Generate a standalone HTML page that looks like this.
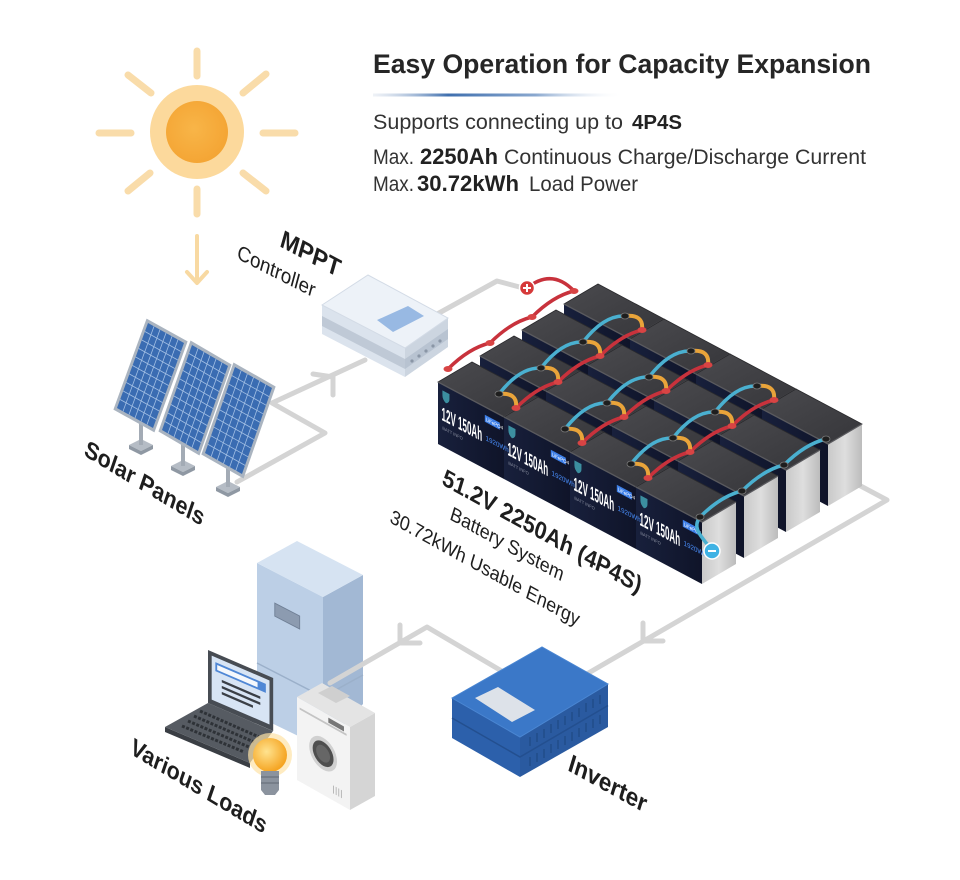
<!DOCTYPE html>
<html>
<head>
<meta charset="utf-8">
<style>
html,body{margin:0;padding:0;background:#fff;}
svg{display:block;}
</style>
</head>
<body>
<svg width="960" height="880" viewBox="0 0 960 880" xmlns="http://www.w3.org/2000/svg" font-family="'Liberation Sans', Arial, sans-serif">
<defs>
  <linearGradient id="ul" x1="0" y1="0" x2="1" y2="0">
    <stop offset="0" stop-color="#c9d4e4" stop-opacity="0.3"/>
    <stop offset="0.3" stop-color="#3f6fae"/>
    <stop offset="0.65" stop-color="#8aa8cf"/>
    <stop offset="1" stop-color="#ffffff" stop-opacity="0"/>
  </linearGradient>
  <radialGradient id="sunc" cx="0.45" cy="0.45" r="0.6">
    <stop offset="0" stop-color="#f8b548"/>
    <stop offset="1" stop-color="#f4a433"/>
  </radialGradient>
  <linearGradient id="topg" x1="0" y1="0" x2="1" y2="1">
    <stop offset="0" stop-color="#4a4a4e"/>
    <stop offset="1" stop-color="#36363a"/>
  </linearGradient>
  <linearGradient id="frontg" x1="0" y1="0" x2="1" y2="0">
    <stop offset="0" stop-color="#18203c"/>
    <stop offset="1" stop-color="#0f1429"/>
  </linearGradient>
  <linearGradient id="sideg" x1="0" y1="0" x2="1" y2="0">
    <stop offset="0" stop-color="#c9c9c9"/>
    <stop offset="0.5" stop-color="#dedede"/>
    <stop offset="1" stop-color="#bcbcbc"/>
  </linearGradient>
  <radialGradient id="bulbg" cx="0.4" cy="0.4" r="0.6">
    <stop offset="0" stop-color="#ffe38f"/>
    <stop offset="1" stop-color="#f5a523"/>
  </radialGradient>
  <g id="bat">
    <polygon points="0,0 66,35 100,15 34,-20" fill="url(#topg)" stroke="#2a2a2d" stroke-width="0.8"/>
    <polygon points="0,0 66,35 66,97 0,62" fill="url(#frontg)"/>
    <polygon points="66,35 100,15 100,77 66,97" fill="url(#sideg)"/>
    <polyline points="0,0 66,35 100,15" fill="none" stroke="#5a5a5e" stroke-width="1.3"/>
  </g>
</defs>

<rect width="960" height="880" fill="#ffffff"/>

<!-- Header -->
<text x="373" y="73" font-size="27" font-weight="bold" fill="#262626" textLength="498" lengthAdjust="spacingAndGlyphs">Easy Operation for Capacity Expansion</text>
<rect x="373" y="93.5" width="250" height="3" fill="url(#ul)"/>
<text x="373" y="129" font-size="21" fill="#333" textLength="250" lengthAdjust="spacingAndGlyphs">Supports connecting up to</text>
<text x="632" y="129" font-size="20" font-weight="bold" fill="#222" textLength="50" lengthAdjust="spacingAndGlyphs">4P4S</text>
<text x="373" y="164" font-size="21" fill="#333" textLength="41" lengthAdjust="spacingAndGlyphs">Max.</text>
<text x="420" y="164" font-size="22" font-weight="bold" fill="#222" textLength="78" lengthAdjust="spacingAndGlyphs">2250Ah</text>
<text x="504" y="164" font-size="21" fill="#333" textLength="362" lengthAdjust="spacingAndGlyphs">Continuous Charge/Discharge Current</text>
<text x="373" y="191" font-size="21" fill="#333" textLength="41" lengthAdjust="spacingAndGlyphs">Max.</text>
<text x="417" y="191" font-size="22" font-weight="bold" fill="#222" textLength="102" lengthAdjust="spacingAndGlyphs">30.72kWh</text>
<text x="529" y="191" font-size="21" fill="#333" textLength="109" lengthAdjust="spacingAndGlyphs">Load Power</text>

<!-- Sun -->
<g stroke="#f9dcaa" stroke-width="7" stroke-linecap="round" fill="none">
  <path d="M197,51 L197,76"/>
  <path d="M197,189 L197,214"/>
  <path d="M99,133 L131,133"/>
  <path d="M263,133 L295,133"/>
  <path d="M128,75 L151,93"/>
  <path d="M266,74 L243,93"/>
  <path d="M128,191 L150,173"/>
  <path d="M243,173 L266,191"/>
</g>
<circle cx="197" cy="132" r="47" fill="#fcd99c"/>
<circle cx="197" cy="132" r="31" fill="url(#sunc)"/>
<g stroke="#f8d9a2" stroke-width="4" stroke-linecap="round" stroke-linejoin="round" fill="none">
  <path d="M197,236 L197,282"/>
  <path d="M187,272 L197,283 L207,272"/>
</g>

<!-- Connector lines (background) -->
<g stroke="#d4d4d4" stroke-width="5" fill="none" stroke-linejoin="round" stroke-linecap="round">
  <path d="M237,482 L325,433 L272,403 L365,360"/>
  <path d="M313,374 L333,377 L333,395"/>
  <path d="M430,318 L497,281 L527,289"/>
  <path d="M855,483 L887,500 L585,675"/>
  <path d="M643,623 L643,641 L663,641"/>
</g>

<!-- Solar panels -->
<g>
  <polygon points="129,445 141,439 153,445 141,451" fill="#b5bcc5"/>
  <polygon points="129,445 141,451 153,445 153,449 141,455 129,449" fill="#8f98a3"/>
  <polygon points="171,466 183,460 195,466 183,472" fill="#b5bcc5"/>
  <polygon points="171,466 183,472 195,466 195,470 183,476 171,470" fill="#8f98a3"/>
  <polygon points="216,487 228,481 240,487 228,493" fill="#b5bcc5"/>
  <polygon points="216,487 228,493 240,487 240,491 228,497 216,491" fill="#8f98a3"/>
  <g stroke="#a3abb5" stroke-width="4">
    <path d="M141,415 L141,445"/>
    <path d="M183,437 L183,466"/>
    <path d="M228,460 L228,487"/>
  </g>
  <g transform="matrix(36,20,-31,85,148,323)">
    <polygon points="-0.07,-0.035 1.07,-0.035 1.07,1.035 -0.07,1.035" fill="#aab4c0"/>
    <rect x="0" y="0" width="1" height="1" fill="#3a6cb2"/>
    <path d="M0.1667,0V1M0.3333,0V1M0.5,0V1M0.6667,0V1M0.8333,0V1M0,0.1H1M0,0.2H1M0,0.3H1M0,0.4H1M0,0.5H1M0,0.6H1M0,0.7H1M0,0.8H1M0,0.9H1" stroke="#a2bfe4" stroke-width="0.8" vector-effect="non-scaling-stroke" fill="none"/>
  </g>
  <g transform="matrix(36,21,-30,85,192,345)">
    <polygon points="-0.07,-0.035 1.07,-0.035 1.07,1.035 -0.07,1.035" fill="#aab4c0"/>
    <rect x="0" y="0" width="1" height="1" fill="#3a6cb2"/>
    <path d="M0.1667,0V1M0.3333,0V1M0.5,0V1M0.6667,0V1M0.8333,0V1M0,0.1H1M0,0.2H1M0,0.3H1M0,0.4H1M0,0.5H1M0,0.6H1M0,0.7H1M0,0.8H1M0,0.9H1" stroke="#a2bfe4" stroke-width="0.8" vector-effect="non-scaling-stroke" fill="none"/>
  </g>
  <g transform="matrix(37,21,-30,86,235,367)">
    <polygon points="-0.07,-0.035 1.07,-0.035 1.07,1.035 -0.07,1.035" fill="#aab4c0"/>
    <rect x="0" y="0" width="1" height="1" fill="#3a6cb2"/>
    <path d="M0.1667,0V1M0.3333,0V1M0.5,0V1M0.6667,0V1M0.8333,0V1M0,0.1H1M0,0.2H1M0,0.3H1M0,0.4H1M0,0.5H1M0,0.6H1M0,0.7H1M0,0.8H1M0,0.9H1" stroke="#a2bfe4" stroke-width="0.8" vector-effect="non-scaling-stroke" fill="none"/>
  </g>
</g>

<!-- MPPT controller -->
<g>
  <polygon points="322,305 405,348 405,377 322,334" fill="#dbe3ed"/>
  <polygon points="322,316 405,359 405,369 322,326" fill="#bfc9d6"/>
  <polygon points="405,348 448,318 448,347 405,377" fill="#ccd5e0"/>
  <polygon points="405,359 448,329 448,339 405,369" fill="#b8c3d1"/>
  <polygon points="322,305 368,275 448,318 405,348" fill="#edf2f8" stroke="#d3dbe6" stroke-width="1"/>
  <polygon points="377,320 408,306 424,316 393,332" fill="#98b9e3"/>
  <g fill="#8a96a6">
    <circle cx="412" cy="361" r="1.6"/>
    <circle cx="419" cy="356" r="1.6"/>
    <circle cx="426" cy="351" r="1.6"/>
    <circle cx="433" cy="346" r="1.6"/>
    <circle cx="440" cy="341" r="1.6"/>
  </g>
</g>

<!-- Battery bank -->
<use href="#bat" x="564" y="304"/>
<use href="#bat" x="630" y="339"/>
<use href="#bat" x="696" y="374"/>
<use href="#bat" x="762" y="409"/>
<use href="#bat" x="522" y="330"/>
<use href="#bat" x="588" y="365"/>
<use href="#bat" x="654" y="400"/>
<use href="#bat" x="720" y="435"/>
<use href="#bat" x="480" y="356"/>
<use href="#bat" x="546" y="391"/>
<use href="#bat" x="612" y="426"/>
<use href="#bat" x="678" y="461"/>
<use href="#bat" x="438" y="382"/>
<use href="#bat" x="504" y="417"/>
<use href="#bat" x="570" y="452"/>
<use href="#bat" x="636" y="487"/>

<!-- Front labels of batteries -->
<g transform="matrix(0.883,0.468,0,1,438,382)">
  <path d="M5,6 h8 v5 q0,4 -4,6 q-4,-2 -4,-6 z" fill="#3c8fa0"/>
  <text x="4" y="36" font-size="19" font-weight="bold" fill="#ffffff" textLength="46" lengthAdjust="spacingAndGlyphs">12V 150Ah</text>
  <rect x="53" y="8" width="17" height="7" fill="#3d7fe8"/>
  <text x="54" y="13.5" font-size="5" fill="#ffffff">LiFePO4</text>
  <text x="54" y="33" font-size="7" fill="#4a90ff">1920Wh</text>
  <text x="5" y="45" font-size="4.5" fill="#8a8fa0">BATT INFO</text>
</g>
<g transform="matrix(0.883,0.468,0,1,504,417)">
  <path d="M5,6 h8 v5 q0,4 -4,6 q-4,-2 -4,-6 z" fill="#3c8fa0"/>
  <text x="4" y="36" font-size="19" font-weight="bold" fill="#ffffff" textLength="46" lengthAdjust="spacingAndGlyphs">12V 150Ah</text>
  <rect x="53" y="8" width="17" height="7" fill="#3d7fe8"/>
  <text x="54" y="13.5" font-size="5" fill="#ffffff">LiFePO4</text>
  <text x="54" y="33" font-size="7" fill="#4a90ff">1920Wh</text>
  <text x="5" y="45" font-size="4.5" fill="#8a8fa0">BATT INFO</text>
</g>
<g transform="matrix(0.883,0.468,0,1,570,452)">
  <path d="M5,6 h8 v5 q0,4 -4,6 q-4,-2 -4,-6 z" fill="#3c8fa0"/>
  <text x="4" y="36" font-size="19" font-weight="bold" fill="#ffffff" textLength="46" lengthAdjust="spacingAndGlyphs">12V 150Ah</text>
  <rect x="53" y="8" width="17" height="7" fill="#3d7fe8"/>
  <text x="54" y="13.5" font-size="5" fill="#ffffff">LiFePO4</text>
  <text x="54" y="33" font-size="7" fill="#4a90ff">1920Wh</text>
  <text x="5" y="45" font-size="4.5" fill="#8a8fa0">BATT INFO</text>
</g>
<g transform="matrix(0.883,0.468,0,1,636,487)">
  <path d="M5,6 h8 v5 q0,4 -4,6 q-4,-2 -4,-6 z" fill="#3c8fa0"/>
  <text x="4" y="36" font-size="19" font-weight="bold" fill="#ffffff" textLength="46" lengthAdjust="spacingAndGlyphs">12V 150Ah</text>
  <rect x="53" y="8" width="17" height="7" fill="#3d7fe8"/>
  <text x="54" y="13.5" font-size="5" fill="#ffffff">LiFePO4</text>
  <text x="54" y="33" font-size="7" fill="#4a90ff">1920Wh</text>
  <text x="5" y="45" font-size="4.5" fill="#8a8fa0">BATT INFO</text>
</g>

<!-- Cables -->
<g fill="none" stroke-linecap="round">
  <g stroke="#c8323c" stroke-width="3.5">
    <path d="M448,369 Q469,348 490,343 Q511,322 532,317 Q553,296 574,291"/>
    <path d="M527,288 Q552,268 574,291"/>
    <path d="M516,408 Q537,387 558,382 Q579,361 600,356 Q621,335 642,330"/>
    <path d="M582,443 Q603,422 624,417 Q645,396 666,391 Q687,370 708,365"/>
    <path d="M648,478 Q669,457 690,452 Q711,431 732,426 Q753,405 774,400"/>
  </g>
  <g stroke="#4ab0d0" stroke-width="3.5">
    <path d="M499,394 Q520,367 541,368 Q562,341 583,342 Q604,315 625,316"/>
    <path d="M565,429 Q586,402 607,403 Q628,376 649,377 Q670,350 691,351"/>
    <path d="M631,464 Q652,437 673,438 Q694,411 715,412 Q736,385 757,386"/>
    <path d="M700,517 Q721,496 742,491 Q763,470 784,465 Q805,444 826,439"/>
    <path d="M700,517 C690,530 706,540 712,551"/>
  </g>
  <g stroke="#e9a43a" stroke-width="4">
    <path d="M499,394 Q518,392 516,408"/>
    <path d="M541,368 Q560,366 558,382"/>
    <path d="M583,342 Q602,340 600,356"/>
    <path d="M625,316 Q644,314 642,330"/>
    <path d="M565,429 Q584,427 582,443"/>
    <path d="M607,403 Q626,401 624,417"/>
    <path d="M649,377 Q668,375 666,391"/>
    <path d="M691,351 Q710,349 708,365"/>
    <path d="M631,464 Q650,462 648,478"/>
    <path d="M673,438 Q692,436 690,452"/>
    <path d="M715,412 Q734,410 732,426"/>
    <path d="M757,386 Q776,384 774,400"/>
  </g>
</g>
<g fill="#1e1e1e" stroke="#777" stroke-width="0.8">
  <ellipse cx="499" cy="394" rx="4" ry="3"/><ellipse cx="541" cy="368" rx="4" ry="3"/><ellipse cx="583" cy="342" rx="4" ry="3"/><ellipse cx="625" cy="316" rx="4" ry="3"/>
  <ellipse cx="565" cy="429" rx="4" ry="3"/><ellipse cx="607" cy="403" rx="4" ry="3"/><ellipse cx="649" cy="377" rx="4" ry="3"/><ellipse cx="691" cy="351" rx="4" ry="3"/>
  <ellipse cx="631" cy="464" rx="4" ry="3"/><ellipse cx="673" cy="438" rx="4" ry="3"/><ellipse cx="715" cy="412" rx="4" ry="3"/><ellipse cx="757" cy="386" rx="4" ry="3"/>
  <ellipse cx="700" cy="517" rx="4" ry="3"/><ellipse cx="742" cy="491" rx="4" ry="3"/><ellipse cx="784" cy="465" rx="4" ry="3"/><ellipse cx="826" cy="439" rx="4" ry="3"/>
</g>
<g fill="#d84444">
  <ellipse cx="448" cy="369" rx="4.5" ry="3"/><ellipse cx="490" cy="343" rx="4.5" ry="3"/><ellipse cx="532" cy="317" rx="4.5" ry="3"/><ellipse cx="574" cy="291" rx="4.5" ry="3"/>
  <ellipse cx="516" cy="408" rx="4.5" ry="3"/><ellipse cx="558" cy="382" rx="4.5" ry="3"/><ellipse cx="600" cy="356" rx="4.5" ry="3"/><ellipse cx="642" cy="330" rx="4.5" ry="3"/>
  <ellipse cx="582" cy="443" rx="4.5" ry="3"/><ellipse cx="624" cy="417" rx="4.5" ry="3"/><ellipse cx="666" cy="391" rx="4.5" ry="3"/><ellipse cx="708" cy="365" rx="4.5" ry="3"/>
  <ellipse cx="648" cy="478" rx="4.5" ry="3"/><ellipse cx="690" cy="452" rx="4.5" ry="3"/><ellipse cx="732" cy="426" rx="4.5" ry="3"/><ellipse cx="774" cy="400" rx="4.5" ry="3"/>
</g>
<circle cx="527" cy="288" r="7.5" fill="#d63a3a" stroke="#ffffff" stroke-width="1.5"/>
<path d="M523,288 H531 M527,284 V292" stroke="#ffffff" stroke-width="2"/>
<circle cx="712" cy="551" r="8" fill="#3fb2e4" stroke="#ffffff" stroke-width="1.5"/>
<path d="M708,551 H716" stroke="#ffffff" stroke-width="2"/>

<!-- Fridge -->
<g>
  <polygon points="257,563 323,597 323,748 257,716" fill="#bccfe6"/>
  <polygon points="323,597 363,575 363,704 323,748" fill="#a2b8d4"/>
  <polygon points="257,563 297,541 363,575 323,597" fill="#d6e3f2"/>
  <path d="M257,663 L323,697 L363,675" stroke="#9bb0ca" stroke-width="1.5" fill="none"/>
  <g transform="matrix(0.889,0.458,0,1,257,563)">
    <rect x="20" y="31" width="28" height="13" fill="#8c9bb0" stroke="#6f7f95" stroke-width="1"/>
  </g>
</g>

<!-- Loads connector -->
<g stroke="#d4d4d4" stroke-width="5" fill="none" stroke-linejoin="round" stroke-linecap="round">
  <path d="M505,673 L427,627 L330,683"/>
  <path d="M400,625 L400,643 L420,643"/>
</g>

<!-- Laptop -->
<g>
  <polygon points="165,727 250,763 250,768 165,732" fill="#3a3e44"/>
  <polygon points="208,703 273,731 250,763 165,727" fill="#565b62"/>
  <g stroke="#2e3237" stroke-width="3" stroke-dasharray="3 1.5" fill="none">
    <path d="M200,711 L259,737"/>
    <path d="M194,716 L254,742"/>
    <path d="M188,721 L249,747"/>
    <path d="M182,726 L244,752"/>
  </g>
  <g transform="matrix(0.918,0.395,0,1,208,650)">
    <rect x="0" y="0" width="71" height="53" fill="#474c53"/>
    <rect x="4" y="4" width="63" height="44" fill="#d7e4f4"/>
    <rect x="8" y="9" width="55" height="9" fill="#4f87d5"/>
    <rect x="10" y="11" width="44" height="5" fill="#f5f8fc"/>
    <rect x="15" y="24" width="42" height="2.5" fill="#3a3f46"/>
    <rect x="15" y="30" width="42" height="2.5" fill="#3a3f46"/>
    <rect x="15" y="36" width="34" height="2.5" fill="#3a3f46"/>
  </g>
</g>

<!-- Washer -->
<g>
  <polygon points="297,697 350,727 350,810 297,780" fill="#f3f3f3"/>
  <polygon points="350,727 375,713 375,796 350,810" fill="#d5d5d5"/>
  <polygon points="297,697 322,683 375,713 350,727" fill="#e4e4e4"/>
  <polygon points="318,693 332,686 350,696 336,703" fill="#cfcfcf"/>
  <g transform="matrix(0.87,0.49,0,1,297,697)">
    <rect x="3" y="9" width="54" height="2" fill="#c4c4c4"/>
    <rect x="36" y="3" width="18" height="5" fill="#777"/>
    <circle cx="30" cy="42" r="16" fill="#d0d0d0"/>
    <circle cx="30" cy="42" r="12" fill="#4e4e4e"/>
    <circle cx="30" cy="42" r="8" fill="#666"/>
    <path d="M42,68 v8 M45,68 v8 M48,68 v8 M51,68 v8" stroke="#b0b0b0" stroke-width="1"/>
  </g>
</g>

<!-- Bulb -->
<g>
  <circle cx="270" cy="755" r="22" fill="#fde3a6" opacity="0.7"/>
  <circle cx="270" cy="755" r="17" fill="url(#bulbg)"/>
  <polygon points="261,771 279,771 279,790 275,795 265,795 261,790" fill="#8b939e"/>
  <path d="M261,777 H279 M261,783 H279" stroke="#6f7782" stroke-width="1.5"/>
</g>

<!-- Inverter -->
<g>
  <polygon points="452,698 520,737 520,777 452,738" fill="#2c60ab"/>
  <polygon points="520,737 608,684 608,727 520,777" fill="#2a5aa0"/>
  <polygon points="452,698 542,647 608,684 520,737" fill="#3b78c8" stroke="#4a86d2" stroke-width="1"/>
  <path d="M452,718 L520,757 L608,705.5" stroke="#234f8f" stroke-width="1.5" fill="none"/>
  <polygon points="475,698 498,687 535,710 512,722" fill="#dde2e9"/>
  <path d="M530,737V746M537,733V742M544,729V738M551,724V733M558,720V729M565,716V725M572,712V721M579,708V717M586,703V712M593,699V708M600,695V704M530,757V766M537,753V762M544,749V758M551,744V753M558,740V749M565,736V745M572,732V741M579,728V737M586,723V732M593,719V728M600,715V724" stroke="#23508f" stroke-width="2" fill="none"/>
</g>

<!-- Labels -->
<g fill="#1e1e1e">
  <text transform="translate(279,246) rotate(28) skewX(12)" font-size="24" font-weight="bold">MPPT</text>
  <text transform="translate(236,258) rotate(27) skewX(12)" font-size="20">Controller</text>
  <text transform="translate(83,455) rotate(31) skewX(12)" font-size="23" font-weight="bold">Solar Panels</text>
  <text transform="translate(129,753) rotate(31) skewX(12)" font-size="23" font-weight="bold">Various Loads</text>
  <text transform="translate(567,770) rotate(29) skewX(12)" font-size="24" font-weight="bold">Inverter</text>
  <text transform="translate(441,484) rotate(29) skewX(12)" font-size="23" font-weight="bold">51.2V 2250Ah (4P4S)</text>
  <text transform="translate(449,519) rotate(29) skewX(12)" font-size="19">Battery System</text>
  <text transform="translate(389,522) rotate(29) skewX(12)" font-size="19">30.72kWh Usable Energy</text>
</g>
</svg>
</body>
</html>
